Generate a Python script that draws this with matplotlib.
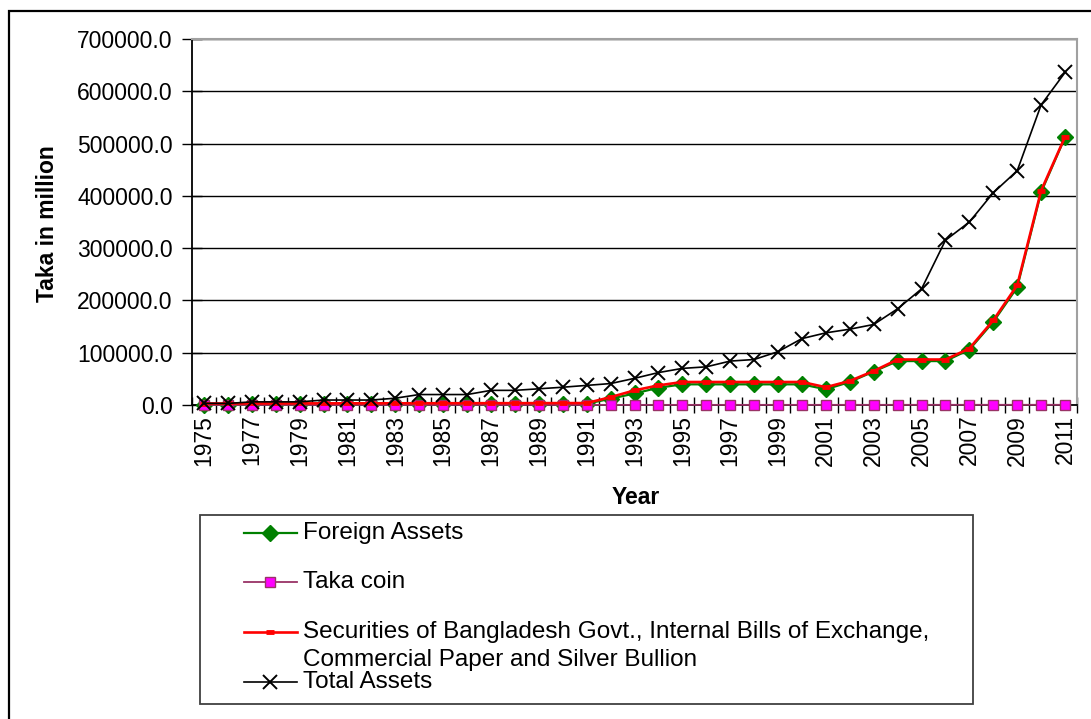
import matplotlib
matplotlib.use('Agg')
import matplotlib.pyplot as plt
from matplotlib.lines import Line2D
from matplotlib.patches import Rectangle
from matplotlib.ticker import FuncFormatter, MultipleLocator

plt.rcParams['font.family'] = ['Liberation Sans', 'DejaVu Sans']

# Data (Taka in million)
years = list(range(1975, 2012))
foreign_assets = [500, 600, 1200, 1300, 1400, 1500, 1500, 1600, 1700, 1800, 1900, 2000,
                  2000, 2100, 2200, 2300, 2400, 12000, 22000, 33000, 39500, 39500, 39500,
                  39500, 39500, 39500, 30000, 44000, 64000, 84000, 84000, 84000, 106000,
                  159000, 225000, 407000, 512000]
taka_coin = [50, 60, 70, 80, 90, 100, 110, 120, 130, 140, 150, 160, 170, 180, 190, 200,
             210, 220, 230, 240, 250, 260, 270, 280, 290, 300, 310, 320, 330, 340, 350,
             360, 370, 380, 390, 400, 410]
securities = [2800, 2900, 3000, 3000, 3100, 3100, 3200, 3200, 3300, 3300, 3400, 3400,
              3500, 3500, 3600, 3600, 3700, 15000, 28000, 37500, 44000, 44000, 44000,
              44000, 44000, 44000, 34000, 46000, 65000, 87000, 87000, 87000, 108000,
              162000, 229000, 410000, 513000]
total_assets = [3200, 3000, 6000, 6000, 6000, 9500, 9500, 9500, 13000, 20000, 20000, 20000,
                28000, 28000, 31000, 34000, 37500, 41000, 51000, 62000, 70000, 73000, 84000,
                87000, 102000, 127000, 138000, 145000, 154000, 184000, 222000, 315000,
                350000, 406000, 448000, 574000, 636000]

labels = [['Foreign Assets'], ['Taka coin'],
          ['Securities of Bangladesh Govt., Internal Bills of Exchange,',
           'Commercial Paper and Silver Bullion'],
          ['Total Assets']]

W, H = 1091, 719
fig = plt.figure(figsize=(W / 100, H / 100), dpi=100)

def fx(px):
    return px / W

def fy(py):
    return 1 - py / H

# outer chart-area border (only top and left visible)
fig.add_artist(Rectangle((fx(9), -0.1), 1.2, fy(11) + 0.1, transform=fig.transFigure,
                         fill=False, edgecolor='black', lw=1.6))

ax = fig.add_axes([fx(192), fy(405), fx(1077) - fx(192), fy(39) - fy(405)])

x = list(range(len(years)))
styles = [
    dict(color='#008000', lw=1.6, marker='D', ms=8, mfc='#008000', mec='#008000'),
    dict(color='#993366', lw=1.3, marker='s', ms=7.5, mfc='#FF00FF', mec='#993366', mew=1.0),
    dict(color='#FF0000', lw=1.9, marker='_', ms=6, mec='#FF0000', mew=3.5),
    dict(color='black', lw=1.2, marker='x', ms=10.5, mec='black', mew=1.4),
]
series = [foreign_assets, taka_coin, securities, total_assets]
for vals, st in zip(series, styles):
    ax.plot(x, vals, clip_on=False, zorder=3, **st)

ax.set_xlim(-0.5, len(years) - 0.5)
ax.set_ylim(0, 700000)
ax.yaxis.set_major_locator(MultipleLocator(100000))
ax.yaxis.set_major_formatter(FuncFormatter(lambda v, p: f'{v:.1f}'))
ax.grid(axis='y', color='black', lw=1.0)
ax.set_axisbelow(True)

ax.set_xticks(x[::2])
ax.set_xticklabels([str(y) for y in years[::2]], rotation=90, fontsize=16.5)
ax.set_xticks([i - 0.5 for i in range(len(years) + 1)], minor=True)
ax.tick_params(axis='x', which='major', length=0, pad=7)
ax.tick_params(axis='x', which='minor', direction='inout', length=12, width=1.0)
ax.tick_params(axis='y', direction='inout', length=14, width=1.0, labelsize=16.5, pad=7)

for s in ['top', 'right']:
    ax.spines[s].set_color('#a0a0a0')
    ax.spines[s].set_linewidth(1.5)
ax.spines['left'].set_linewidth(1.3)
ax.spines['bottom'].set_linewidth(1.3)

fig.text(fx(48), fy(224), 'Taka in million', rotation=90, ha='center', va='center',
         fontsize=16.5, fontweight='bold')
fig.text(fx(636), fy(497), 'Year', ha='center', va='center', fontsize=16.5, fontweight='bold')

# legend box drawn by hand to keep Excel-like spacing
fig.add_artist(Rectangle((fx(200), fy(704)), fx(973) - fx(200), fy(515) - fy(704),
                         transform=fig.transFigure, fill=False, edgecolor='#404040', lw=1.3))
leg_y = [533, 582, 632, 682]
for lab, st, ly in zip(labels, styles, leg_y):
    fig.add_artist(Line2D([fx(244), fx(297)], [fy(ly), fy(ly)], transform=fig.transFigure,
                          color=st['color'], lw=st['lw'], zorder=5))
    mst = {k: v for k, v in st.items() if k not in ('color', 'lw')}
    fig.add_artist(Line2D([fx(270)], [fy(ly)], transform=fig.transFigure, lw=0, zorder=6, **mst))
    for j, line in enumerate(lab):
        fig.text(fx(303), fy(ly + 28 * j), line, ha='left', va='center', fontsize=17.5)

fig.savefig('out.png', dpi=100)
